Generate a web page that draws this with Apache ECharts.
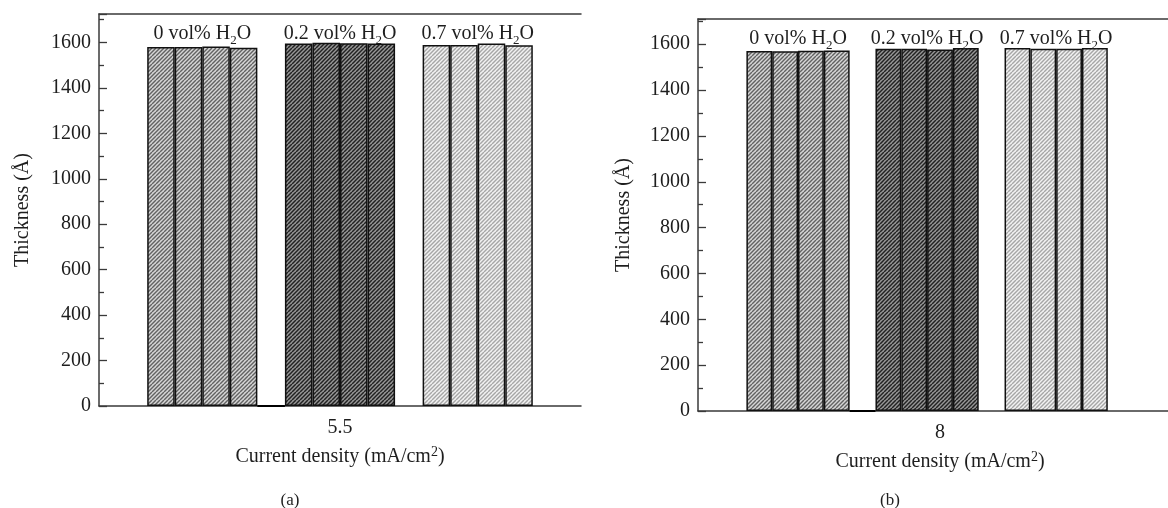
<!DOCTYPE html>
<html>
<head>
<meta charset="utf-8">
<script src="https://cdn.jsdelivr.net/npm/echarts@6/dist/echarts.min.js"></script>
<style>
  html, body { margin: 0; padding: 0; background: #ffffff; overflow: hidden; }
  /* the right panel's frame runs on past the page edge, so the canvas is a little wider */
  #chart { width: 1200px; height: 508px; }
</style>
</head>
<body>
<div id="chart"></div>
<script>
// Film thickness (Å) of four samples per water content, at two current densities
const densityA = ['5.5'];
const densityB = ['8'];
const waterLabels = ['0', '0.2', '0.7'];           // vol% H2O
const thickA_0 = [1580, 1580, 1582, 1577];
const thickA_2 = [1595, 1599, 1596, 1595];
const thickA_7 = [1589, 1589, 1595, 1588];
const thickB_0 = [1570, 1569, 1571, 1573];
const thickB_2 = [1580, 1580, 1577, 1583];
const thickB_7 = [1583, 1580, 1580, 1583];
const emptySample = [0];                              // blank slot drawn at zero

const FONT = '"Liberation Serif", "DejaVu Serif", serif';
const INK = '#1e1e1e';
const AXIS = '#3a3a3a';

// diagonal "/" hatching as a repeating canvas tile
function hatch(bg, fg, step, lw) {
  const s = step * 2;
  const c = document.createElement('canvas');
  c.width = s; c.height = s;
  const g = c.getContext('2d');
  g.fillStyle = bg;
  g.fillRect(0, 0, s, s);
  g.strokeStyle = fg;
  g.lineWidth = lw;
  for (let x = -s; x <= s; x += step) {
    g.beginPath();
    g.moveTo(x, s);
    g.lineTo(x + s, 0);
    g.stroke();
  }
  return { image: c, repeat: 'repeat' };
}
const fills = [
  hatch('#d6d6d6', '#626262', 4, 1.4),
  hatch('#979797', '#222222', 4, 1.5),
  hatch('#f2f2f2', '#a6a6a6', 4, 1.4)
];

function groupLabel(level) {
  return '{t|' + level + ' vol% H}{s|2}{t|O}';
}

const labelRich = {
  t: { fontFamily: FONT, fontSize: 20, color: INK, lineHeight: 26 },
  s: { fontFamily: FONT, fontSize: 13, color: INK, lineHeight: 13, verticalAlign: 'bottom' }
};

function bar(values, fill, xi, yi) {
  return {
    type: 'bar', xAxisIndex: xi, yAxisIndex: yi,
    data: values.slice(),
    barGap: '0%', barCategoryGap: '20%',
    itemStyle: { color: fill, borderColor: '#111', borderWidth: 1.5 },
    emphasis: { disabled: true }
  };
}

// one panel: three groups of four samples, with the group caption above each
function panelSeries(cat, groups, yMax, xi, yi, halfBar, trailingSlot) {
  const out = [];
  groups.forEach((vals, gi) => {
    vals.forEach((v, k) => {
      const s = bar([v], fills[gi], xi, yi);
      if (k === 1) {
        s.markPoint = {
          symbol: 'rect', symbolSize: 1,
          itemStyle: { color: 'rgba(0,0,0,0)' },
          silent: true,
          label: {
            show: true, position: 'inside', offset: [halfBar, 20],
            formatter: groupLabel(waterLabels[gi]), rich: labelRich
          },
          data: [{ coord: [cat[0], yMax] }]
        };
      }
      out.push(s);
    });
    if (gi === 0) {
      const z = bar(emptySample, '#ffffff', xi, yi);
      z.itemStyle = { color: '#ffffff', borderColor: '#000', borderWidth: 2 };
      out.push(z);
    } else if (gi === 1) {
      out.push(bar(['-'], '#ffffff', xi, yi));
    }
  });
  if (trailingSlot) out.push(bar(['-'], '#ffffff', xi, yi));
  return out;
}

function valueAxis(gi, yMax, gap) {
  return {
    gridIndex: gi, type: 'value', min: 0, max: yMax, interval: 200,
    name: 'Thickness (Å)', nameLocation: 'middle', nameGap: gap,
    nameTextStyle: { fontFamily: FONT, fontSize: 20, color: INK },
    axisLine: { show: true, lineStyle: { color: AXIS, width: 1.5 } },
    axisTick: { show: true, inside: true, length: 8, lineStyle: { color: AXIS, width: 1.3 } },
    minorTick: { show: true, splitNumber: 2, length: 5, lineStyle: { color: AXIS, width: 1.3 } },
    splitLine: { show: false },
    axisLabel: {
      margin: 8, fontFamily: FONT, fontSize: 20, color: INK,
      formatter: v => (v % 200 === 0 ? String(v) : '')
    }
  };
}

function categoryAxis(gi, cats) {
  return {
    gridIndex: gi, type: 'category', data: cats, position: 'bottom',
    name: '{t|Current density (mA/cm}{p|2}{t|)}',
    nameLocation: 'middle', nameGap: 39,
    nameTextStyle: {
      rich: {
        t: { fontFamily: FONT, fontSize: 20, color: INK, lineHeight: 24 },
        p: { fontFamily: FONT, fontSize: 14, color: INK, lineHeight: 14, verticalAlign: 'top' }
      }
    },
    axisLine: { show: true, lineStyle: { color: AXIS, width: 1.5 } },
    axisTick: { show: true, inside: true, alignWithLabel: true, length: 4, lineStyle: { color: AXIS } },
    axisLabel: { margin: 12, fontFamily: FONT, fontSize: 20, color: INK },
    splitLine: { show: false }
  };
}

function topFrame(gi) {
  return {
    gridIndex: gi, type: 'value', position: 'top', min: 0, max: 1,
    axisLine: { show: true, lineStyle: { color: AXIS, width: 1.5 } },
    axisTick: { show: false }, axisLabel: { show: false }, splitLine: { show: false }
  };
}

const Y_MAX_A = 1725;
const Y_MAX_B = 1710;

const chart = echarts.init(document.getElementById('chart'), null, { renderer: 'canvas' });
chart.setOption({
  animation: false,
  backgroundColor: '#ffffff',
  grid: [
    { left: 99, top: 14, width: 482, height: 392 },
    { left: 698, top: 19, width: 484, height: 392 }
  ],
  xAxis: [categoryAxis(0, densityA), categoryAxis(1, densityB), topFrame(0), topFrame(1)],
  yAxis: [valueAxis(0, Y_MAX_A, 66), valueAxis(1, Y_MAX_B, 64)],
  series: [].concat(
    panelSeries(densityA, [thickA_0, thickA_2, thickA_7], Y_MAX_A, 0, 0, 13.8, false),
    panelSeries(densityB, [thickB_0, thickB_2, thickB_7], Y_MAX_B, 1, 1, 12.9, true)
  ),
  graphic: [
    { type: 'text', style: { x: 290, y: 501, text: '(a)', textAlign: 'center', textVerticalAlign: 'middle', font: '17px ' + FONT, fill: INK } },
    { type: 'text', style: { x: 890, y: 501, text: '(b)', textAlign: 'center', textVerticalAlign: 'middle', font: '17px ' + FONT, fill: INK } }
  ]
});
</script>
</body>
</html>
